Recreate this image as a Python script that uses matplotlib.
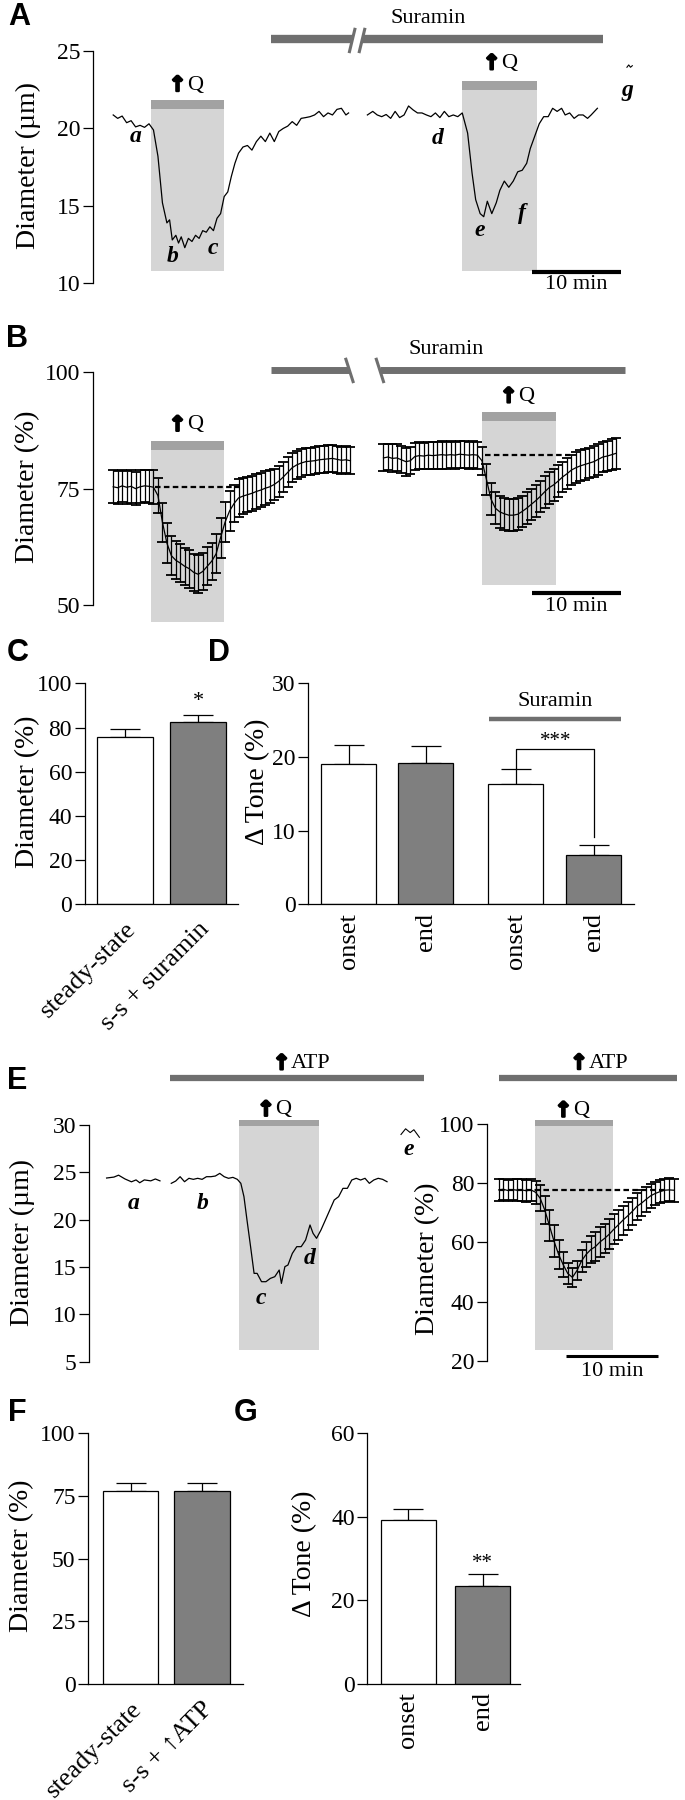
import numpy as np
import matplotlib
matplotlib.use("Agg")
import matplotlib.pyplot as plt
import matplotlib.patheffects as pe
from matplotlib.patches import Rectangle

plt.rcParams["font.family"] = ["Liberation Serif", "DejaVu Sans"]
plt.rcParams["axes.linewidth"] = 0.9

# ---------------- data ----------------
# A: diameter (um) of one arteriole, time in min
a_t1 = [0.0, 0.5, 1.0, 1.5, 2.0, 2.5, 3.0, 3.5, 4.0, 4.5, 5.0, 5.5, 6.0, 6.3, 6.6, 7.0, 7.3, 7.6, 8.0, 8.4,
        8.8, 9.2, 9.6, 10.0, 10.4, 10.8, 11.2, 11.6, 12.0, 12.4, 12.8, 13.2, 13.6, 14.0, 14.5, 15.0, 15.5, 16.0,
        16.5, 17.0, 17.5, 18.0, 18.5, 19.0, 19.5, 20.0, 20.5, 21.0, 21.5, 22.0, 22.5, 23.0, 23.5, 24.0, 24.5,
        25.0, 25.5, 26.0, 26.3]
a_d1 = [20.87, 20.65, 20.8, 20.37, 20.5, 20.1, 20.2, 20.07, 20.3, 19.9, 18.2, 15.2, 13.9, 14.1, 12.8, 13.1,
        12.6, 13.0, 12.3, 12.9, 12.7, 13.1, 12.9, 13.4, 13.3, 13.65, 13.4, 14.2, 14.5, 15.6, 15.9, 16.9, 17.75,
        18.4, 18.8, 18.9, 18.6, 19.15, 19.5, 19.15, 19.7, 19.15, 19.8, 20.0, 20.15, 20.44, 20.2, 20.65, 20.7,
        20.76, 20.87, 21.1, 20.76, 21.0, 20.87, 21.23, 21.3, 20.87, 21.0]
a_t2 = [28.4, 29.0, 29.5, 30.0, 30.5, 31.0, 31.5, 32.0, 32.5, 33.0, 33.5, 34.0, 34.5, 35.0, 35.5, 36.0, 36.5,
        37.0, 37.5, 38.0, 38.5, 39.0, 39.6, 40.1, 40.5, 41.0, 41.4, 41.8, 42.3, 42.8, 43.2, 43.7, 44.2, 44.7,
        45.2, 45.7, 46.2, 46.6, 47.1, 47.6, 48.1, 48.6, 49.1, 49.6, 50.1, 50.5, 51.0, 51.5, 52.0, 52.5, 53.0,
        53.4, 54.1]
a_d2 = [20.87, 21.1, 20.87, 20.76, 20.9, 20.65, 21.1, 20.7, 20.87, 21.45, 21.2, 21.0, 21.0, 20.87, 20.76, 21.0,
        20.7, 21.1, 20.76, 20.87, 20.76, 21.0, 19.7, 17.1, 15.4, 14.5, 14.3, 15.3, 14.5, 15.2, 16.0, 16.6, 16.2,
        16.6, 17.2, 17.3, 17.75, 18.7, 19.5, 20.3, 20.76, 20.76, 21.3, 21.1, 21.3, 20.87, 21.0, 20.65, 20.87,
        20.87, 20.65, 20.87, 21.3]
a_q_on = [4.2, 39.0]
a_q_off = [12.4, 47.3]

# B: mean diameter (%) +- sem
b_t1 = [0.0, 0.5, 1.0, 1.5, 2.0, 2.5, 3.0, 3.5, 4.0, 4.5, 5.0, 5.5, 6.0, 6.5, 7.0, 7.5, 8.0, 8.5, 9.0, 9.5,
        10.0, 10.5, 11.0, 11.5, 12.0, 12.5, 13.0, 13.5, 14.0, 14.5, 15.0, 15.5, 16.0, 16.5, 17.0, 17.5, 18.0,
        18.5, 19.0, 19.5, 20.0, 20.5, 21.0, 21.5, 22.0, 22.5, 23.0, 23.5, 24.0, 24.5, 25.0, 25.5, 26.0, 26.5]
b_m1 = [75.4, 75.2, 75.6, 75.3, 75.5, 75.0, 75.4, 75.6, 75.5, 75.3, 73.5, 67.8, 63.3, 60.6, 59.6, 59.0, 58.3,
        57.8, 57.0, 56.6, 57.2, 58.3, 59.4, 61.0, 64.5, 67.8, 70.2, 71.8, 73.0, 73.4, 73.7, 74.0, 74.4, 74.7,
        75.1, 75.4, 75.9, 76.6, 77.5, 78.5, 79.5, 80.1, 80.5, 80.8, 80.9, 81.0, 81.2, 81.3, 81.4, 81.5, 81.3,
        81.1, 81.2, 81.0]
b_s1 = [3.5, 3.6, 3.4, 3.5, 3.6, 3.5, 3.5, 3.4, 3.5, 3.6, 3.8, 4.2, 4.3, 4.2, 4.1, 4.0, 4.0, 4.1, 4.0, 4.1,
        4.0, 4.1, 4.0, 4.2, 4.3, 4.3, 4.2, 4.0, 4.0, 3.9, 3.8, 3.8, 3.7, 3.6, 3.6, 3.5, 3.4, 3.3, 3.3, 3.2,
        3.1, 3.0, 3.0, 2.9, 2.9, 2.9, 2.9, 2.9, 2.9, 2.9, 2.9, 2.9, 2.9, 2.9]
b_t2 = [30.2, 30.7, 31.2, 31.7, 32.2, 32.7, 33.2, 33.7, 34.2, 34.7, 35.2, 35.7, 36.2, 36.7, 37.2, 37.7, 38.2,
        38.7, 39.2, 39.7, 40.2, 40.7, 41.2, 41.7, 42.2, 42.7, 43.2, 43.7, 44.2, 44.7, 45.2, 45.7, 46.2, 46.7,
        47.2, 47.7, 48.2, 48.7, 49.2, 49.7, 50.2, 50.7, 51.2, 51.7, 52.2, 52.7, 53.2, 53.7, 54.2, 54.7, 55.2,
        55.7, 56.2]
b_m2 = [81.6, 81.8, 81.5, 81.6, 81.2, 80.8, 81.0, 81.9, 82.1, 82.0, 82.2, 82.1, 82.2, 82.3, 82.2, 82.3, 82.2,
        82.4, 82.3, 82.2, 82.3, 82.2, 81.0, 77.0, 72.8, 70.8, 70.0, 69.6, 69.3, 69.3, 69.5, 70.1, 70.8, 71.6,
        72.4, 73.3, 74.3, 75.2, 75.8, 76.6, 77.5, 78.2, 79.0, 79.5, 79.9, 80.2, 80.5, 80.8, 81.3, 81.8, 82.0,
        82.3, 82.6]
b_s2 = [2.9, 2.9, 3.0, 2.9, 2.9, 3.0, 2.9, 2.9, 2.9, 2.8, 2.9, 2.9, 2.9, 3.0, 2.9, 2.9, 2.9, 2.9, 2.9, 2.9,
        2.9, 2.9, 3.0, 3.4, 3.4, 3.4, 3.4, 3.4, 3.4, 3.4, 3.4, 3.4, 3.4, 3.4, 3.4, 3.4, 3.4, 3.4, 3.4, 3.4,
        3.3, 3.3, 3.3, 3.3, 3.3, 3.3, 3.3, 3.3, 3.3, 3.3, 3.3, 3.3, 3.3]
b_q_on = [4.2, 41.2]
b_q_off = [12.4, 49.5]
b_base = [75.4, 82.2]

# C, D: bar summaries
c_labels = ["steady-state", "s-s + suramin"]
c_vals = [75.6, 82.4]
c_sem = [3.6, 3.1]
d_labels = ["onset", "end", "onset", "end"]
d_vals = [19.1, 19.2, 16.3, 6.65]
d_sem = [2.5, 2.3, 2.0, 1.4]

# E: ATP experiment
e_ta = [0.0, 0.8, 1.3, 2.0, 2.7, 3.2, 3.6, 4.1, 4.8, 5.3, 5.8]
e_da = [24.4, 24.5, 24.7, 24.3, 24.0, 24.2, 23.9, 24.2, 24.1, 24.3, 24.1]
e_tb = [7.03, 7.51, 7.99, 8.47, 8.95, 9.43, 9.90, 10.38, 10.86, 11.34, 11.82, 12.30, 12.78, 13.25, 13.73,
        14.21, 14.59, 14.93, 15.26, 15.65, 16.03, 16.36, 16.84, 17.32, 17.80, 18.28, 18.76, 19.0, 19.38, 19.71,
        20.19, 20.67, 21.15, 21.63, 22.11, 22.44, 22.82, 23.30, 23.78, 24.26, 24.74, 25.22, 25.69, 26.17,
        26.65, 27.13, 27.61, 28.09, 28.56, 29.04, 29.52, 30.0, 30.48]
e_db = [23.84, 24.08, 24.54, 24.01, 24.37, 24.26, 24.37, 24.26, 24.54, 24.54, 24.61, 24.89, 24.54, 24.37,
        24.47, 24.26, 23.84, 22.43, 19.96, 17.15, 14.33, 14.33, 13.45, 13.45, 13.8, 13.98, 14.68, 13.27, 15.04,
        15.21, 16.44, 17.15, 17.15, 17.85, 19.44, 18.56, 18.03, 18.91, 19.96, 21.02, 22.08, 22.43, 23.31,
        23.31, 24.19, 24.37, 24.19, 24.37, 23.84, 24.19, 24.37, 24.26, 24.01]
e_te = [32.0, 32.5, 33.0, 33.4, 34.0]
e_de = [29.0, 29.6, 29.2, 29.5, 28.7]
e_t = [0.0, 0.5, 1.0, 1.5, 2.0, 2.5, 3.0, 3.5, 4.0, 4.5, 5.0, 5.5, 6.0, 6.5, 7.0, 7.5, 8.0, 8.5, 9.0, 9.5,
       10.0, 10.5, 11.0, 11.5, 12.0, 12.5, 13.0, 13.5, 14.0, 14.5, 15.0, 15.5, 16.0, 16.5, 17.0, 17.5, 18.0,
       18.5, 19.0]
e_m = [77.8, 78.0, 77.6, 77.9, 77.7, 77.8, 77.5, 77.8, 77.0, 75.0, 71.0, 65.8, 60.5, 56.0, 52.5, 49.5, 48.2,
       50.5, 53.8, 56.0, 57.6, 58.6, 60.2, 61.4, 62.8, 64.5, 66.0, 67.6, 69.0, 70.5, 72.2, 73.3, 74.6, 75.8,
       76.6, 77.2, 77.7, 77.8, 77.7]
e_s = [3.7, 3.6, 3.7, 3.6, 3.7, 3.6, 3.7, 3.7, 3.9, 4.3, 4.8, 5.2, 5.3, 5.0, 4.2, 3.5, 3.1, 3.3, 3.8, 4.3,
       4.6, 4.8, 5.0, 5.0, 5.0, 5.0, 5.0, 4.9, 4.8, 4.7, 4.6, 4.4, 4.2, 4.0, 3.9, 3.9, 3.9, 3.9, 3.9]

# F, G
f_labels = ["steady-state", "s-s + \u2191ATP"]
f_vals = [77.0, 77.1]
f_sem = [3.3, 3.2]
g_labels = ["onset", "end"]
g_vals = [39.3, 23.5]
g_sem = [2.5, 2.8]

# ---------------- figure ----------------
W, H = 685, 1800
fig = plt.figure(figsize=(W / 100, H / 100), dpi=100)

BOX = "#d5d5d5"
QBAR = "#a2a2a2"
DRUG = "#6f6f6f"
GRAY = "#7f7f7f"
TICK = 17
LAB = 20
XLAB = 19


def px_axes(x0, y0, x1, y1):
    ax = fig.add_axes([x0 / W, 1 - y1 / H, (x1 - x0) / W, (y1 - y0) / H])
    ax.set_facecolor("none")
    return ax


def ftext(x, y, s, **kw):
    fig.text(x / W, 1 - y / H, s, **kw)


def trace_axes(x0, y0, x1, y1, t0px, ppm, ylim, ticks):
    ax = px_axes(x0, y0, x1, y1)
    ax.set_xlim((x0 - t0px) / ppm, (x1 - t0px) / ppm)
    ax.set_ylim(*ylim)
    for s in ["top", "right", "bottom"]:
        ax.spines[s].set_visible(False)
    ax.spines["left"].set_bounds(ticks[0], ticks[-1])
    ax.set_xticks([])
    ax.set_yticks(ticks)
    ax.tick_params(axis="y", length=7, width=0.9, labelsize=TICK, pad=2)
    return ax


def stim_box(ax, t0, t1, ybot, ybar, ytop):
    ax.add_patch(Rectangle((t0, ybot), t1 - t0, ytop - ybot, color=BOX, lw=0, zorder=0, clip_on=False))
    ax.add_patch(Rectangle((t0, ybar), t1 - t0, ytop - ybar, color=QBAR, lw=0, zorder=0.5, clip_on=False))


def up_text(ax, x, y, s, size=16):
    ax.annotate("\u2191", (x, y), xytext=(-1.5, 0), textcoords="offset points", ha="right", va="center",
                fontsize=size - 1, fontweight="bold", family="DejaVu Sans", annotation_clip=False,
                path_effects=[pe.withStroke(linewidth=1.6, foreground="k")])
    ax.annotate(s, (x, y), xytext=(-1, 0), textcoords="offset points", ha="left", va="center",
                fontsize=size, annotation_clip=False)


def hbar(ax, x0, x1, y, lw, color=DRUG):
    ax.plot([x0, x1], [y, y], color=color, lw=lw, solid_capstyle="butt", clip_on=False)


def italic(ax, x, y, s):
    ax.text(x, y, s, fontsize=17, fontweight="bold", fontstyle="italic", ha="center", va="center")


def mean_sem(ax, t, m, s):
    ax.errorbar(t, m, yerr=s, color="k", lw=0.9, elinewidth=0.9, capsize=3.6, capthick=1.3, clip_on=False)


def bar_axes(x0, y0, x1, y1, c0, spacing, pos, vals, sem, labels, width, ymax, ticks, rot):
    ax = px_axes(x0, y0, x1, y1)
    ax.set_xlim((x0 - c0) / spacing, (x1 - c0) / spacing)
    ax.set_ylim(0, ymax)
    for s in ["top", "right"]:
        ax.spines[s].set_visible(False)
    ax.spines["left"].set_bounds(0, ticks[-1])
    colors = ["white", GRAY] * 2
    ax.bar(pos, vals, width=width, color=colors[:len(vals)], edgecolor="k", lw=0.9, zorder=2)
    ax.errorbar(pos, vals, yerr=[[0] * len(vals), sem], fmt="none", ecolor="k", elinewidth=0.9,
                capsize=11, capthick=0.9, zorder=1)
    ax.set_yticks(ticks)
    ax.tick_params(axis="y", length=7, width=0.9, labelsize=TICK, pad=2)
    ax.set_xticks(pos)
    if rot == 45:
        ax.set_xticklabels(labels, rotation=45, ha="right", va="top", rotation_mode="anchor", fontsize=XLAB)
        ax.tick_params(axis="x", length=0, pad=10)
    else:
        ax.set_xticklabels(labels, rotation=90, ha="center", va="top", fontsize=XLAB)
        ax.tick_params(axis="x", length=0, pad=6)
    return ax


# ---- A ----
axA = trace_axes(93.4, 51, 665, 283.3, 113.2, 8.95, (10, 25), [10, 15, 20, 25])
stim_box(axA, a_q_on[0], a_q_off[0], 10.82, 21.28, 21.84)
stim_box(axA, a_q_on[1], a_q_off[1], 10.82, 22.48, 23.08)
axA.plot(a_t1, a_d1, color="k", lw=0.9, clip_on=False)
axA.plot(a_t2, a_d2, color="k", lw=0.9, clip_on=False)
axA.plot([57.4, 57.6, 57.8, 58.0], [23.95, 24.1, 23.95, 24.05], color="k", lw=0.8, clip_on=False)
hbar(axA, 17.6, 26.7, 25.77, 6)
hbar(axA, 27.8, 54.7, 25.77, 6)
for s0 in [26.4, 27.5]:
    axA.plot([s0, s0 + 0.6], [24.96, 26.4], color=DRUG, lw=2.2, clip_on=False)
axA.text(35.2, 27.1, "Suramin", fontsize=16, ha="center", va="center")
up_text(axA, 8.4, 22.8, "Q")
up_text(axA, 43.5, 24.2, "Q")
hbar(axA, 46.8, 56.7, 10.75, 3, color="k")
axA.text(51.75, 9.9, "10 min", fontsize=16, ha="center", va="center")
for lab, x, y in [("a", 2.53, 19.47), ("b", 6.68, 11.72), ("c", 11.16, 12.26), ("d", 36.3, 19.36),
                  ("e", 41.0, 13.44), ("f", 45.7, 14.52), ("g", 57.5, 22.48)]:
    italic(axA, x, y, lab)

# ---- B ----
axB = trace_axes(93, 372.3, 665, 605, 113.2, 8.95, (50, 100), [50, 75, 100])
stim_box(axB, b_q_on[0], b_q_off[0], 46.4, 83.3, 85.3)
stim_box(axB, b_q_on[1], b_q_off[1], 54.4, 89.6, 91.4)
mean_sem(axB, b_t1, b_m1, b_s1)
mean_sem(axB, b_t2, b_m2, b_s2)
axB.plot([4.7, 14.2], [b_base[0]] * 2, "k--", lw=1.6, dashes=(2.5, 1.5))
axB.plot([41.5, 51.0], [b_base[1]] * 2, "k--", lw=1.6, dashes=(2.5, 1.5))
hbar(axB, 17.6, 26.3, 100.5, 5)
hbar(axB, 29.8, 57.2, 100.5, 5)
for s0 in [26.0, 29.4]:
    axB.plot([s0, s0 + 0.8], [102.8, 98.0], color=DRUG, lw=2.2, clip_on=False)
axB.text(37.2, 104.8, "Suramin", fontsize=16, ha="center", va="center")
up_text(axB, 8.4, 88.7, "Q")
up_text(axB, 45.4, 94.8, "Q")
hbar(axB, 46.8, 56.7, 52.5, 3, color="k")
axB.text(51.75, 49.6, "10 min", fontsize=16, ha="center", va="center")

# ---- C ----
axC = bar_axes(84.6, 683.3, 238, 904.3, 125, 73, [0, 1], c_vals, c_sem, c_labels, 0.767, 100,
               [0, 20, 40, 60, 80, 100], 45)
axC.text(1, 91.7, "*", fontsize=16, ha="center", va="center")

# ---- D ----
d_pos = [0, 1, 2.17, 3.18]
axD = bar_axes(308, 683.3, 634, 904.3, 348.7, 77, d_pos, d_vals, d_sem, d_labels, 0.714, 30,
               [0, 10, 20, 30], 90)
hbar(axD, 1.82, 3.53, 25.1, 3.2)
axD.text(2.68, 27.5, "Suramin", fontsize=16, ha="center", va="center")
axD.plot([d_pos[2], d_pos[2], d_pos[3], d_pos[3]], [18.3, 21.1, 21.1, 9.2], color="k", lw=0.9)
axD.text(2.69, 22.1, "***", fontsize=15, ha="center", va="center")

# ---- E left ----
axE = trace_axes(89, 1125, 475, 1361.7, 106.6, 9.2, (5, 30), [5, 10, 15, 20, 25, 30])
stim_box(axE, 14.35, 23.06, 6.23, 29.9, 30.53)
axE.plot(e_ta, e_da, color="k", lw=0.9, clip_on=False)
axE.plot(e_tb, e_db, color="k", lw=0.9, clip_on=False)
axE.plot(e_te, e_de, color="k", lw=0.8, clip_on=False)
hbar(axE, 6.94, 34.45, 35.0, 4.5)
up_text(axE, 20.2, 36.5, "ATP")
up_text(axE, 18.5, 31.6, "Q")
for lab, x, y in [("a", 2.97, 21.7), ("b", 10.4, 21.7), ("c", 16.8, 11.7), ("d", 22.1, 15.9), ("e", 32.8, 27.4)]:
    italic(axE, x, y, lab)

# ---- E right ----
axE2 = trace_axes(487, 1124.3, 682, 1360.7, 498.7, 9.21, (20, 100), [20, 40, 60, 80, 100])
stim_box(axE2, 3.9, 12.45, 23.6, 99.4, 101.5)
mean_sem(axE2, e_t, e_m, e_s)
axE2.plot([0.0, 18.2], [77.7, 77.7], "k--", lw=1.6, dashes=(2.5, 1.5))
hbar(axE2, 0.0, 19.4, 115.8, 4.5)
up_text(axE2, 9.9, 120.7, "ATP")
up_text(axE2, 8.2, 104.6, "Q")
hbar(axE2, 7.3, 17.3, 21.6, 2.2, color="k")
axE2.text(12.3, 16.3, "10 min", fontsize=16, ha="center", va="center")

# ---- F ----
axF = bar_axes(88, 1433.3, 243, 1684, 130.5, 71.5, [0, 1], f_vals, f_sem, f_labels, 0.77, 100,
               [0, 25, 50, 75, 100], 45)

# ---- G ----
axG = bar_axes(367.5, 1433.3, 520, 1684, 408.5, 74, [0, 1], g_vals, g_sem, g_labels, 0.736, 60,
               [0, 20, 40, 60], 90)
axG.text(1, 28.9, "**", fontsize=15, ha="center", va="center")

# ---- axis titles and panel letters ----
for x, y, s in [(28.5, 165.7, "Diameter (\u00b5m)"), (27.2, 486.7, "Diameter (%)"),
                (27.2, 791.7, "Diameter (%)"), (258, 781.7, "\u0394 Tone (%)"),
                (22, 1243, "Diameter (\u00b5m)"), (427.6, 1259, "Diameter (%)"),
                (22, 1555.7, "Diameter (%)"), (304.8, 1554, "\u0394 Tone (%)")]:
    ftext(x, y, s, fontsize=LAB, rotation=90, ha="center", va="center")

for x, y, s in [(19.7, 17.3, "A"), (17.5, 339, "B"), (17.5, 653.3, "C"), (219, 653.3, "D"),
                (17.5, 1080.7, "E"), (17.5, 1413.3, "F"), (245.6, 1413.3, "G")]:
    ftext(x, y, s, fontsize=22, fontweight="bold", family="Liberation Sans", ha="center", va="center")

fig.savefig("out.png", dpi=100)
